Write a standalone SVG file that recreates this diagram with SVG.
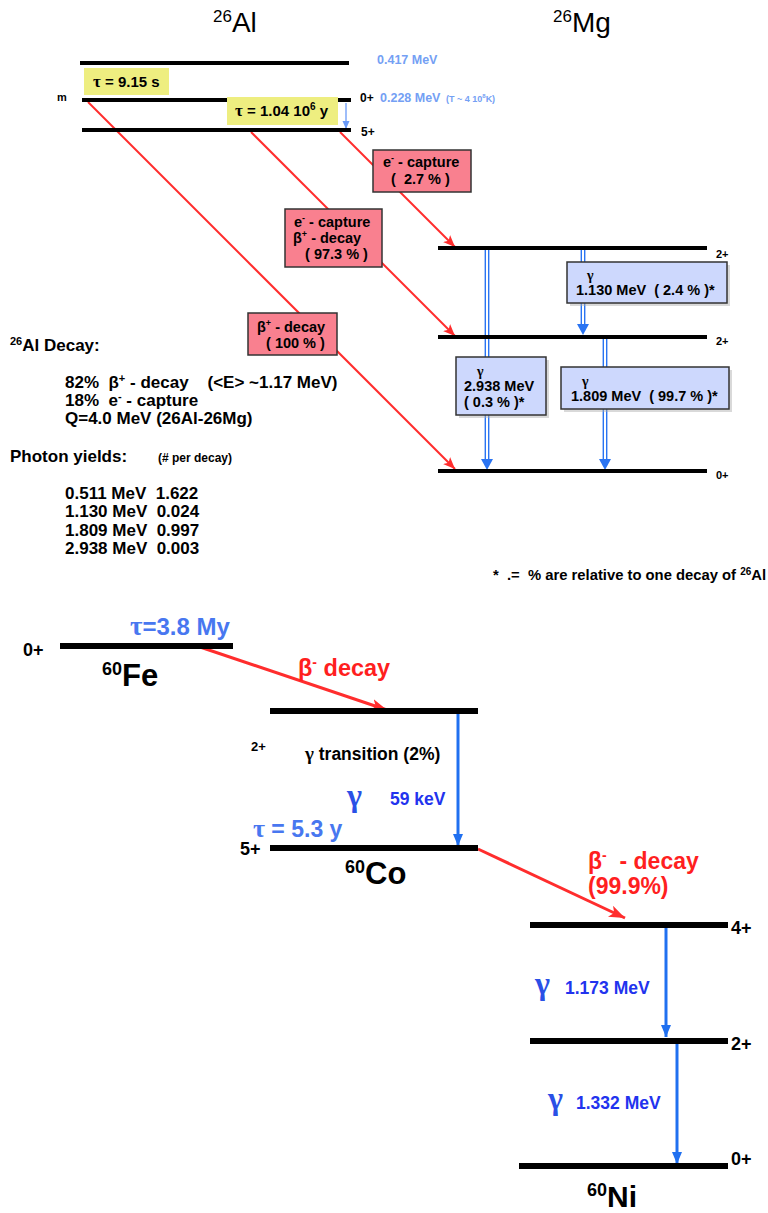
<svg xmlns="http://www.w3.org/2000/svg" width="768" height="1213" viewBox="0 0 768 1213">
<defs>
<style>
text{font-family:"Liberation Sans",Arial,sans-serif;font-weight:bold;fill:#000;white-space:pre}
.lvl{fill:#000}
.red{stroke:#ff2d2d;stroke-width:2;fill:none}
.redT{stroke:#ff2d2d;stroke-width:3;fill:none}
.pink{fill:#f9808f;stroke:#333;stroke-width:1.5}
.lav{fill:#cdd8fd;stroke:#333;stroke-width:1.5}
.yel{fill:#eeee80}
.lb{fill:#74a0f4}
.bt{fill:#4877f0}
.db{fill:#2233ee}
.sym{font-family:"Liberation Serif","DejaVu Serif",serif}
.blueA{stroke:#2070f0;stroke-width:3;fill:none}
.dbl{stroke:#2a74f2;stroke-width:1.4;fill:none}
</style>
<marker id="ra" markerUnits="userSpaceOnUse" markerWidth="14" markerHeight="12" refX="12" refY="5" orient="auto"><path d="M0,0 L12,5 L0,10 L3,5 Z" fill="#ff2d2d"/></marker>
<marker id="raB" markerUnits="userSpaceOnUse" markerWidth="18" markerHeight="14" refX="16" refY="6" orient="auto"><path d="M0,0 L16,6 L0,12 L4,6 Z" fill="#ff2d2d"/></marker>
<marker id="ba" markerUnits="userSpaceOnUse" markerWidth="14" markerHeight="12" refX="12" refY="5" orient="auto"><path d="M0,0 L12,5 L0,10 Z" fill="#2070f0"/></marker>
<marker id="lba" markerUnits="userSpaceOnUse" markerWidth="10" markerHeight="8" refX="8" refY="3.5" orient="auto"><path d="M0,0 L8,3.5 L0,7 Z" fill="#6a9af8"/></marker>
</defs>
<rect width="768" height="1213" fill="#fff"/>

<!-- Titles -->
<g id="title-al"><text x="213" y="32" style="font-weight:normal" font-size="28"><tspan font-size="17" dy="-10">26</tspan><tspan dy="10">Al</tspan></text></g>
<g id="title-mg"><text x="553" y="32" style="font-weight:normal" font-size="28"><tspan font-size="17" dy="-10">26</tspan><tspan dy="10">Mg</tspan></text></g>

<!-- connectors -->
<g id="connectors">
<line class="red" x1="88" y1="102" x2="455" y2="469" marker-end="url(#ra)"/>
<line class="red" x1="251" y1="132" x2="455" y2="336" marker-end="url(#ra)"/>
<line class="red" x1="340" y1="132" x2="455" y2="247" marker-end="url(#ra)"/>
<line x1="346" y1="103" x2="346" y2="129" stroke="#6a9af8" stroke-width="1.3" marker-end="url(#lba)"/>
<g class="dbl">
<line x1="485.3" y1="250" x2="485.3" y2="460"/><line x1="488.7" y1="250" x2="488.7" y2="460"/>
<line x1="581.3" y1="250" x2="581.3" y2="326"/><line x1="584.7" y1="250" x2="584.7" y2="326"/>
<line x1="603.3" y1="339" x2="603.3" y2="460"/><line x1="606.7" y1="339" x2="606.7" y2="460"/>
</g>
<polygon points="481,459 493,459 487,470" fill="#2a74f2"/>
<polygon points="577,324 589,324 583,335" fill="#2a74f2"/>
<polygon points="599,459 611,459 605,470" fill="#2a74f2"/>
<line class="redT" x1="200" y1="647" x2="387" y2="710" marker-end="url(#raB)"/>
<line class="blueA" x1="458" y1="714" x2="458" y2="846" marker-end="url(#ba)"/>
<line class="redT" x1="478" y1="849" x2="625" y2="918" marker-end="url(#raB)"/>
<line class="blueA" x1="666" y1="928" x2="666" y2="1037" marker-end="url(#ba)"/>
<line class="blueA" x1="677" y1="1044" x2="677" y2="1164" marker-end="url(#ba)"/>
</g>

<!-- 26Al levels -->
<g id="al-0417"><rect class="lvl" x="80" y="61" width="269" height="4"/><text class="lb" x="377" y="64" font-size="12.5">0.417 MeV</text></g>
<g id="al-m"><rect class="lvl" x="82" y="98" width="269" height="4"/><text x="57" y="101" font-size="11">m</text><text x="360" y="102" font-size="12">0+</text><text class="lb" x="380" y="102" font-size="12.5">0.228 MeV</text><text class="lb" x="446" y="102" font-size="9"><tspan>(T ~ 4 10</tspan><tspan font-size="6" dy="-4">8</tspan><tspan dy="4">K)</tspan></text></g>
<g id="al-5"><rect class="lvl" x="82" y="128" width="269" height="4"/><text x="361" y="136" font-size="12">5+</text></g>
<g id="tau-m"><rect class="yel" x="84" y="68" width="85" height="27"/><text x="93" y="87" font-size="15"><tspan class="sym" font-size="17">τ</tspan> = 9.15 s</text></g>
<g id="tau-g"><rect class="yel" x="227" y="97" width="111" height="28"/><text x="235" y="116" font-size="15"><tspan class="sym" font-size="17">τ</tspan> = 1.04 10<tspan font-size="10" dy="-6">6</tspan><tspan dy="6"> y</tspan></text></g>

<!-- 26Mg levels -->
<g id="mg-2a"><rect class="lvl" x="438" y="246" width="269" height="4"/><text x="716" y="258" font-size="11">2+</text></g>
<g id="mg-2b"><rect class="lvl" x="438" y="335" width="269" height="4"/><text x="716" y="345" font-size="11">2+</text></g>
<g id="mg-0"><rect class="lvl" x="438" y="469" width="269" height="4"/><text x="716" y="479" font-size="11">0+</text></g>

<!-- red boxes -->
<g id="box-ec"><rect class="pink" x="373" y="150" width="98" height="42"/><text x="383" y="167" font-size="14.5">e<tspan font-size="9" dy="-6">-</tspan><tspan dy="6"> - capture</tspan></text><text x="391" y="184" font-size="14.5">(  2.7 % )</text></g>
<g id="box-ecb"><rect class="pink" x="285" y="209" width="97" height="58"/><text x="294" y="227" font-size="14.5">e<tspan font-size="9" dy="-6">-</tspan><tspan dy="6"> - capture</tspan></text><text x="293" y="243" font-size="14.5">β<tspan font-size="9" dy="-6">+</tspan><tspan dy="6"> - decay</tspan></text><text x="301" y="259" font-size="14.5"> ( 97.3 % )</text></g>
<g id="box-b"><rect class="pink" x="248" y="313" width="89" height="42"/><text x="257" y="332" font-size="14.5">β<tspan font-size="9" dy="-6">+</tspan><tspan dy="6"> - decay</tspan></text><text x="262" y="348" font-size="14.5"> ( 100 % )</text></g>

<!-- blue boxes -->
<g id="box-g1130"><rect x="570" y="265" width="160" height="41" fill="#aaa" opacity="0.45"/><rect class="lav" x="567" y="262" width="160" height="41"/><text class="sym" x="587" y="280" font-size="14">γ</text><text x="576" y="295" font-size="14.5">1.130 MeV  ( 2.4 % )*</text></g>
<g id="box-g2938"><rect x="459" y="360" width="90" height="58" fill="#aaa" opacity="0.45"/><rect class="lav" x="456" y="357" width="90" height="58"/><text class="sym" x="477" y="376" font-size="14">γ</text><text x="464" y="391" font-size="14.5">2.938 MeV</text><text x="464" y="407" font-size="14.5">( 0.3 % )*</text></g>
<g id="box-g1809"><rect x="564" y="370" width="168" height="42" fill="#aaa" opacity="0.45"/><rect class="lav" x="561" y="367" width="168" height="42"/><text class="sym" x="582" y="386" font-size="14">γ</text><text x="571" y="401" font-size="14.5">1.809 MeV  ( 99.7 % )*</text></g>

<!-- left text -->
<g id="al-info">
<text x="10" y="351" font-size="17"><tspan font-size="11" dy="-6">26</tspan><tspan dy="6">Al Decay:</tspan></text>
<text x="65" y="388" font-size="17">82%  β<tspan font-size="11" dy="-6">+</tspan><tspan dy="6"> - decay    (&lt;E&gt; ~1.17 MeV)</tspan></text>
<text x="65" y="406" font-size="17">18%  e<tspan font-size="11" dy="-6">-</tspan><tspan dy="6"> - capture</tspan></text>
<text x="65" y="424" font-size="17">Q=4.0 MeV (26Al-26Mg)</text>
<text x="10" y="462" font-size="17">Photon yields:</text>
<text x="158" y="462" font-size="12">(# per decay)</text>
<text x="65" y="499" font-size="17">0.511 MeV  1.622</text>
<text x="65" y="517" font-size="17">1.130 MeV  0.024</text>
<text x="65" y="536" font-size="17">1.809 MeV  0.997</text>
<text x="65" y="554" font-size="17">2.938 MeV  0.003</text>
</g>
<g id="footnote"><text x="493" y="580" font-size="14.8">*  .=  % are relative to one decay of <tspan font-size="10" dy="-5">26</tspan><tspan dy="5">Al</tspan></text></g>

<!-- 60Fe -->
<g id="fe"><rect class="lvl" x="60" y="643" width="173" height="6"/><text x="23" y="656" font-size="18">0+</text><text class="bt" x="130" y="635" font-size="24"><tspan class="sym" font-size="27">τ</tspan>=3.8 My</text><text x="102" y="686" font-size="31"><tspan font-size="18" dy="-11">60</tspan><tspan dy="11">Fe</tspan></text></g>
<g id="lbl-beta1"><text x="298" y="676" font-size="23.5" style="fill:#ff1f1f">β<tspan font-size="14" dy="-9">-</tspan><tspan dy="9"> decay</tspan></text></g>
<!-- 60Co -->
<g id="co-2"><rect class="lvl" x="270" y="708" width="208" height="6"/><text x="251" y="751" font-size="13">2+</text><text x="305" y="760" font-size="17.5"><tspan class="sym" font-size="19">γ</tspan> transition (2%)</text></g>
<g id="lbl-59"><text class="sym" x="347" y="806" font-size="32" style="fill:#2a50e6">γ</text><text class="db" x="390" y="805" font-size="17.5">59 keV</text></g>
<g id="co-5"><rect class="lvl" x="270" y="845" width="208" height="6"/><text x="240" y="855" font-size="18">5+</text><text class="bt" x="253" y="837" font-size="23"><tspan class="sym" font-size="26">τ</tspan> = 5.3 y</text><text x="345" y="884" font-size="31"><tspan font-size="18" dy="-11">60</tspan><tspan dy="11">Co</tspan></text></g>
<g id="lbl-beta2"><text x="588" y="869" font-size="23" style="fill:#ff1f1f">β<tspan font-size="14" dy="-9">-</tspan><tspan dy="9">  - decay</tspan></text><text x="588" y="894" font-size="23" style="fill:#ff1f1f">(99.9%)</text></g>
<!-- 60Ni -->
<g id="ni-4"><rect class="lvl" x="530" y="922" width="198" height="6"/><text x="731" y="934" font-size="18">4+</text></g>
<g id="lbl-1173"><text class="sym" x="535" y="994" font-size="32" style="fill:#2a50e6">γ</text><text class="db" x="565" y="994" font-size="17.5">1.173 MeV</text></g>
<g id="ni-2"><rect class="lvl" x="530" y="1038" width="198" height="6"/><text x="731" y="1050" font-size="18">2+</text></g>
<g id="lbl-1332"><text class="sym" x="548" y="1109" font-size="32" style="fill:#2a50e6">γ</text><text class="db" x="576" y="1109" font-size="17.5">1.332 MeV</text></g>
<g id="ni-0"><rect class="lvl" x="519" y="1163" width="209" height="6"/><text x="731" y="1165" font-size="18">0+</text><text x="587" y="1207" font-size="30"><tspan font-size="18" dy="-11">60</tspan><tspan dy="11">Ni</tspan></text></g>
</svg>
